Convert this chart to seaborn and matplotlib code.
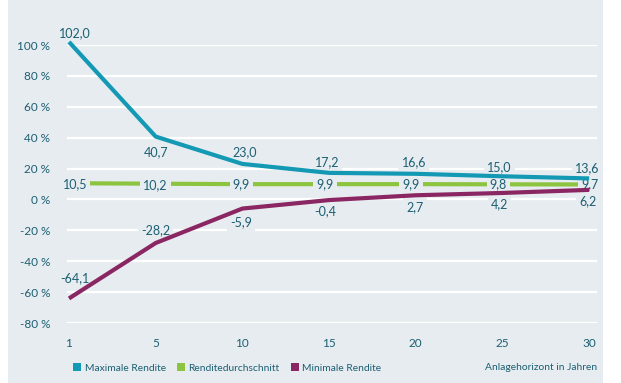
import numpy as np
import pandas as pd
import matplotlib
matplotlib.use("Agg")
import matplotlib.pyplot as plt
import seaborn as sns
from matplotlib.patches import Rectangle, Patch

# ---- Data ----
years = ["1", "5", "10", "15", "20", "25", "30"]
max_rendite = [102.0, 40.7, 23.0, 17.2, 16.6, 15.0, 13.6]
avg_rendite = [10.5, 10.2, 9.9, 9.9, 9.9, 9.8, 9.7]
min_rendite = [-64.1, -28.2, -5.9, -0.4, 2.7, 4.2, 6.2]
series_names = ["Maximale Rendite", "Renditedurchschnitt", "Minimale Rendite"]
y_ticks = [-80, -60, -40, -20, 0, 20, 40, 60, 80, 100]

# ---- Style ----
BG = "#e7ecf0"
TXT = "#1b5f72"
COLORS = ["#1499b5", "#8cc43f", "#8a2763"]

# label offsets in pixels (dx, dy)
off_max = [(6, 9), (0, -16), (2, 12), (-2, 11), (-2, 12), (-3, 9), (-2, 10)]
off_avg = [(6, -1), (0, -1), (-1, 0), (-4, 0), (-5, 0), (-4, 0), (1, 0)]
off_min = [(6, 20), (0, 13), (-1, -14), (-4, -11), (-1, -12), (-3, -11), (-1, -11)]

sns.set_style("white")
plt.rcParams["font.family"] = ["Lato", "DejaVu Sans"]

pos = np.arange(len(years))
df = pd.DataFrame({
    "pos": np.tile(pos, 3),
    "value": max_rendite + avg_rendite + min_rendite,
    "series": np.repeat(series_names, len(years)),
})

fig = plt.figure(figsize=(6.21, 3.83), dpi=100)
fig.patch.set_facecolor("white")
fig.patches.append(Rectangle((8 / 621, 0), 595 / 621, 1, transform=fig.transFigure,
                             facecolor=BG, edgecolor="none", zorder=-10))
ax = fig.add_axes([67 / 621, 1 - 323 / 383, 530 / 621, 278 / 383])
ax.set_facecolor(BG)

# green line below the labels, blue/purple above them
for name, color in zip(series_names, COLORS):
    sns.lineplot(data=df[df["series"] == name], x="pos", y="value", color=color,
                 lw=3.0, ax=ax, clip_on=False, zorder=3 if name != series_names[1] else 2,
                 solid_capstyle="butt")

ax.set_xlim(-0.023, 6.09)
ax.set_ylim(-80, 100)
ax.set_yticks(y_ticks)
ax.set_yticklabels([f"{t} %" for t in y_ticks])
ax.set_xticks(pos)
ax.set_xticklabels(years)
ax.set_xticks(pos[:-1] + 0.5, minor=True)
ax.grid(axis="y", color="white", lw=1.6, zorder=1)
ax.set_axisbelow(True)
for s in ax.spines.values():
    s.set_visible(False)
ax.tick_params(axis="y", length=0, pad=12, labelsize=8.5, labelcolor=TXT)
ax.tick_params(axis="x", which="major", length=6, width=1.6, color="white",
               pad=5, labelsize=8.5, labelcolor=TXT)
ax.tick_params(axis="x", which="minor", length=4, width=1.2, color="white")
ax.set_xlabel("")
ax.set_ylabel("")

box = dict(boxstyle="square,pad=0.25", facecolor=BG, edgecolor="none")
for vals, offs in [(max_rendite, off_max), (avg_rendite, off_avg), (min_rendite, off_min)]:
    for x, v, (dx, dy) in zip(pos, vals, offs):
        ax.annotate(f"{v:.1f}".replace(".", ","), (x, v), xytext=(dx, dy),
                    textcoords="offset pixels", ha="center", va="center",
                    fontsize=9, color=TXT, bbox=box, zorder=2.5, annotation_clip=False)

handles = [Patch(facecolor=c, edgecolor="none") for c in COLORS]
fig.legend(handles, series_names, loc="center left", bbox_to_anchor=(64 / 621, 1 - 368 / 383),
           ncol=3, frameon=False, fontsize=7.4, labelcolor=TXT, handlelength=0.8,
           handleheight=0.8, handletextpad=0.3, columnspacing=1.1)
fig.text(597 / 621, 1 - 368 / 383, "Anlagehorizont in Jahren", ha="right", va="center",
         fontsize=7.4, color=TXT)

plt.savefig("out.png", dpi=100, facecolor=fig.get_facecolor())
plt.close()
